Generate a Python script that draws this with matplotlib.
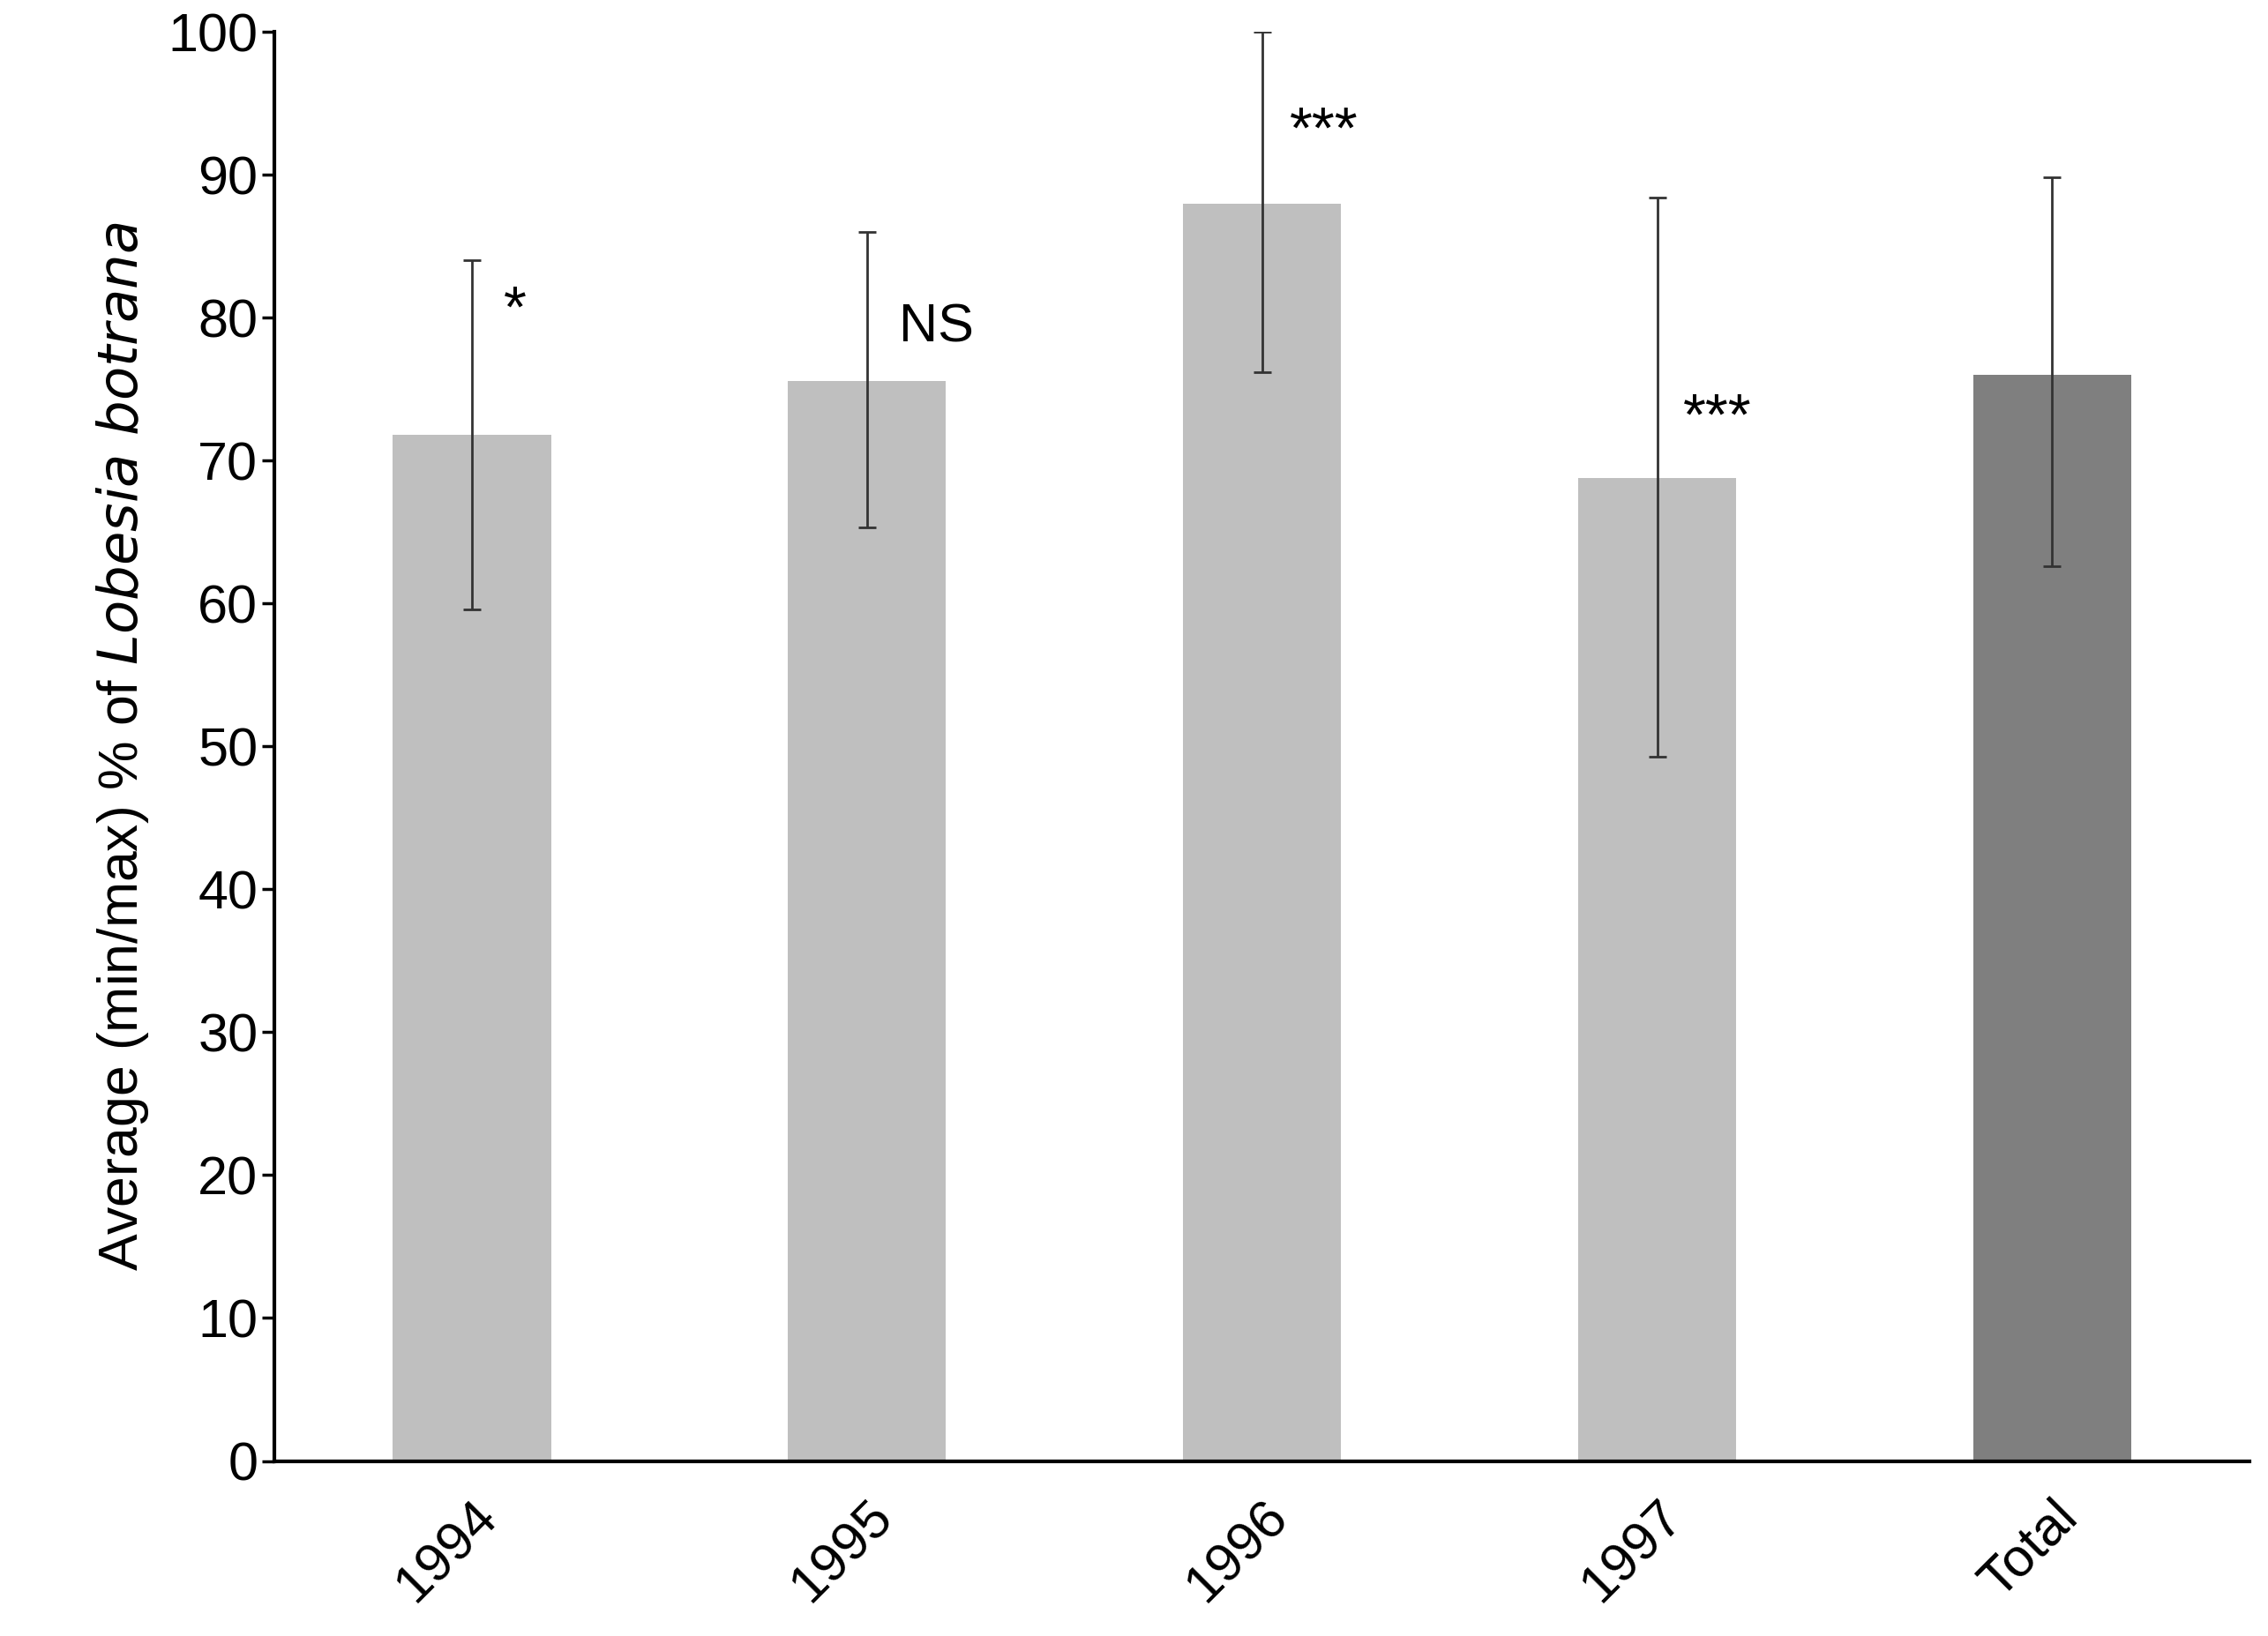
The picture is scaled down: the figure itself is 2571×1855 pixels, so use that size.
import matplotlib
matplotlib.use("Agg")
import matplotlib.pyplot as plt

categories = ["1994", "1995", "1996", "1997", "Total"]
means = [71.8, 75.6, 88.0, 68.8, 76.0]
mins = [59.6, 65.3, 76.2, 49.3, 62.6]
maxs = [84.0, 86.0, 100.0, 88.4, 89.8]
colors = ["#bfbfbf", "#bfbfbf", "#bfbfbf", "#bfbfbf", "#7f7f7f"]
sig_labels = ["*", "NS", "***", "***"]
sig_y = [78.5, 77.5, 91.0, 71.0]

plt.rcParams['font.family'] = ['Liberation Sans', 'DejaVu Sans']
fig = plt.figure(figsize=(25.71, 18.55), dpi=100)
ax = fig.add_axes([0.121, 0.107, 0.871, 0.8735])
x = list(range(len(categories)))
lo = [m - a for m, a in zip(means, mins)]
hi = [b - m for m, b in zip(means, maxs)]
ax.bar(x, means, width=0.4, color=colors, zorder=1)
ax.errorbar(x, means, yerr=[lo, hi], fmt='none', ecolor='#333333', elinewidth=2, capsize=7, capthick=2, zorder=2)
offs = [0.11, 0.08, 0.07, 0.066]
for i, (t, y) in enumerate(zip(sig_labels, sig_y)):
    ax.text(i + offs[i], y, t, fontsize=48 if t != "NS" else 44, ha='left' if i else 'center', va='bottom')
ax.set_xlim(-0.5, 4.5)
ax.set_ylim(0, 100)
ax.set_yticks(range(0, 101, 10))
ax.set_xticks(x)
ax.set_xticklabels(categories, rotation=45, ha='right', rotation_mode='anchor')
ax.tick_params(axis='both', labelsize=44, width=2.5, length=10, direction='out')
ax.tick_params(axis='x', length=0, pad=25)
for s in ['top', 'right']:
    ax.spines[s].set_visible(False)
for s in ['left', 'bottom']:
    ax.spines[s].set_linewidth(3)
ax.set_ylabel(r"Average (min/max) % of $\it{Lobesia\ botrana}$", fontsize=45, labelpad=14)
fig.savefig("out.png", dpi=100)
